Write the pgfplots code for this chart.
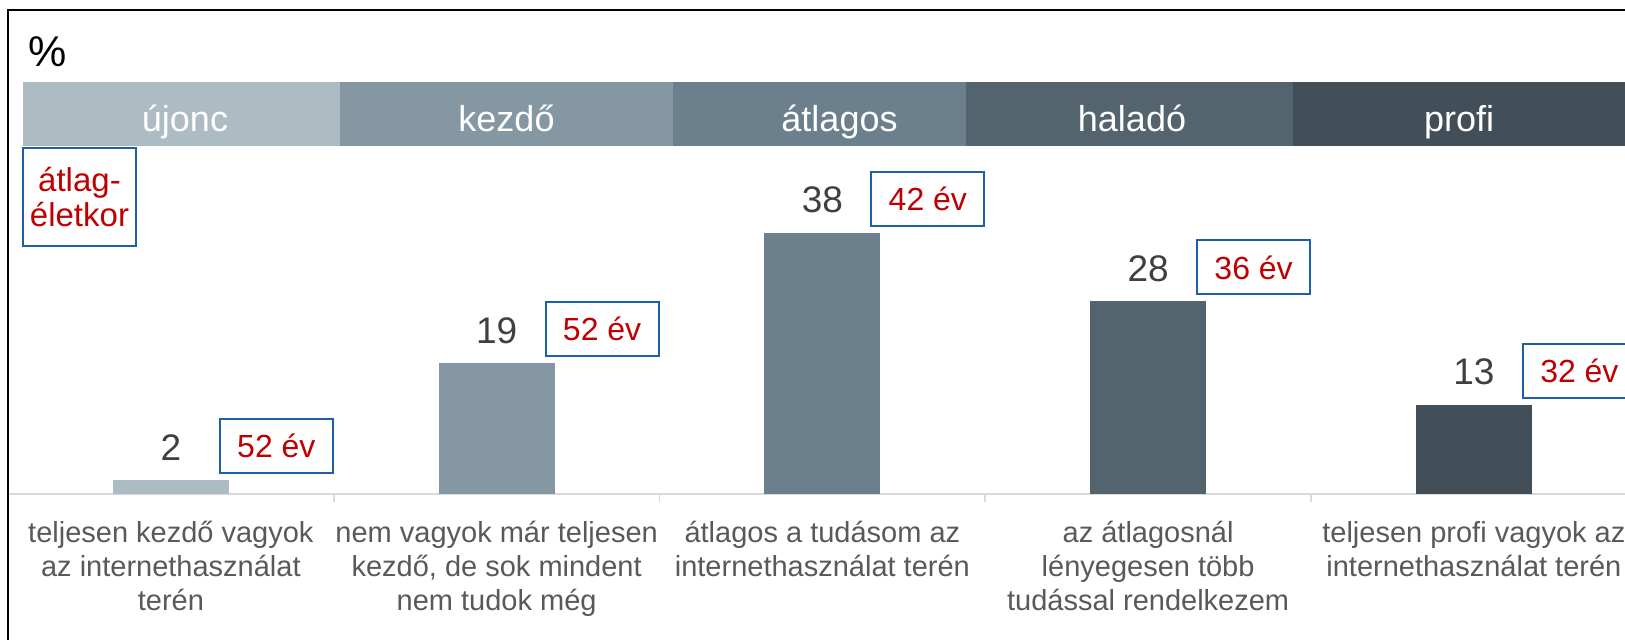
\documentclass[border=0pt]{standalone}
\usepackage{pgfplots}
\pgfplotsset{compat=1.18}
\usepackage{pgfplotstable}
\usepackage{fontspec}
\setmainfont{Liberation Sans}
\definecolor{c1}{HTML}{ADBBC3}
\definecolor{c2}{HTML}{8597A2}
\definecolor{c3}{HTML}{6B7F8C}
\definecolor{c4}{HTML}{54646F}
\definecolor{c5}{HTML}{434F58}
\definecolor{valgray}{HTML}{404040}
\definecolor{labgray}{HTML}{595959}
\definecolor{agered}{HTML}{C00000}
\definecolor{boxblue}{HTML}{1F5FAA}
\definecolor{basegray}{HTML}{D9D9D9}

\pgfplotstableread{
x pct age
0 2 52
1 19 52
2 38 42
3 28 36
4 13 32
}\datatable

\begin{document}
\begin{tikzpicture}
\useasboundingbox (0pt,0pt) rectangle (812.5pt,-319.5pt);
\clip (0pt,0pt) rectangle (812.5pt,-319.5pt);
\begin{scope}[x=0.5pt,y=-0.5pt]
  \fill[c1] (23,82) rectangle (340,146);
  \fill[c2] (340,82) rectangle (673,146);
  \fill[c3] (673,82) rectangle (966,146);
  \fill[c4] (966,82) rectangle (1293,146);
  \fill[c5] (1293,82) rectangle (1640,146);
  \begin{scope}[every node/.style={text=white, anchor=base, inner sep=0pt, font=\fontsize{18}{20}\selectfont}]
    \node at (185,131.5) {újonc};
    \node at (506.5,131.5) {kezdő};
    \node at (839.5,131.5) {átlagos};
    \node at (1132,131.5) {haladó};
    \node at (1459,131.5) {profi};
  \end{scope}
  \node[anchor=base west, inner sep=0pt, font=\fontsize{21.5}{24}\selectfont] at (28,66) {\%};
  \node[draw=boxblue, line width=1pt, text=agered, align=center, minimum width=56.5pt, minimum height=49pt, inner sep=0pt, font=\fontsize{16.5}{17.5}\selectfont] at (79.5,197) {átlag-\\életkor};
\end{scope}
\begin{axis}[
  at={(4pt,-247pt)}, anchor=south west, scale only axis,
  width=814.375pt, height=172pt,
  xmin=-0.5, xmax=4.5, ymin=0, ymax=50,
  axis y line=none, ytick=\empty, axis x line*=bottom,
  x axis line style={basegray, line width=1pt},
  xtick={0,1,2,3,4},
  xticklabels={{teljesen kezdő vagyok\\az internethasználat\\terén},
               {nem vagyok már teljesen\\kezdő, de sok mindent\\nem tudok még},
               {átlagos a tudásom az\\internethasználat terén},
               {az átlagosnál\\lényegesen több\\tudással rendelkezem},
               {teljesen profi vagyok az\\internethasználat terén}},
  major tick length=0pt,
  tick align=outside,
  extra x ticks={0.5,1.5,2.5,3.5},
  extra x tick labels={},
  extra x tick style={major tick length=4pt, major tick style={basegray, line width=0.8pt}},
  xticklabel style={align=center, font=\fontsize{14.5}{17}\selectfont, text=labgray, yshift=-10pt},
  clip=false,
  bar width=58pt, bar shift=0pt,
  /pgf/number format/assume math mode=true,
]
\pgfplotsset{valstyle/.style={nodes near coords, every node near coord/.append style={font=\fontsize{18.5}{20}\selectfont, text=valgray, inner sep=0pt, yshift=9.5pt}}}
\addplot[ybar, fill=c1, draw=none, valstyle] coordinates {(0,2)};
\addplot[ybar, fill=c2, draw=none, valstyle] coordinates {(1,19)};
\addplot[ybar, fill=c3, draw=none, valstyle] coordinates {(2,38)};
\addplot[ybar, fill=c4, draw=none, valstyle] coordinates {(3,28)};
\addplot[ybar, fill=c5, draw=none, valstyle] coordinates {(4,13)};
\addplot[draw=none, mark=none, point meta=explicit symbolic,
  nodes near coords={\pgfplotspointmeta\ év},
  every node near coord/.append style={draw=boxblue, line width=1pt, fill=white, text=agered,
    minimum width=56.5pt, minimum height=27pt, inner sep=0pt,
    font=\fontsize{16}{18}\selectfont, xshift=52.75pt, yshift=3pt}]
  table[x=x, y=pct, meta=age] {\datatable};
\end{axis}
\draw[black, line width=1.1pt] (4pt,-5pt) rectangle (850pt,-360pt);
\end{tikzpicture}
\end{document}
